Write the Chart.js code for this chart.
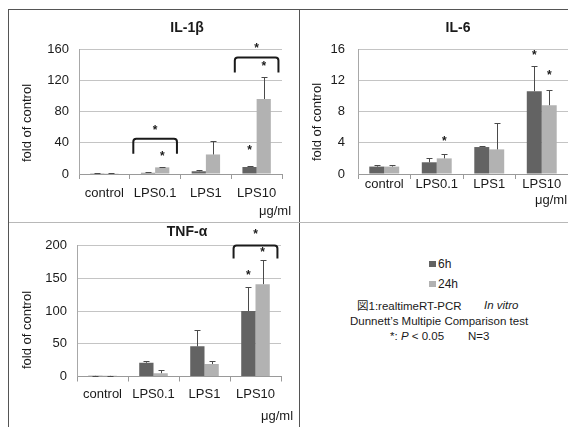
<!DOCTYPE html>
<html><head><meta charset="utf-8">
<script src="https://cdn.jsdelivr.net/npm/chart.js@4"></script>
<style>
html,body{margin:0;padding:0;background:#fff;}
body{width:568px;height:427px;position:relative;overflow:hidden;font-family:'Liberation Sans',Arial,sans-serif;color:#1a1a1a;}
.ln{position:absolute;}
canvas{position:absolute;}
.t{position:absolute;white-space:pre;font-size:11.5px;line-height:14px;}
.sq{position:absolute;width:7px;height:6px;}
.lg{position:absolute;white-space:pre;font-size:12px;line-height:14px;}
</style></head><body>
<div class="ln" style="left:8px;top:9px;width:560px;height:1px;background:#555"></div>
<div class="ln" style="left:8px;top:9px;width:1px;height:418px;background:#555"></div>
<div class="ln" style="left:299px;top:9px;width:1px;height:418px;background:#555"></div>
<div class="ln" style="left:9px;top:222px;width:559px;height:1px;background:#b8b8b8"></div>

<canvas id="c1" width="289" height="211" style="left:9px;top:10px"></canvas>
<canvas id="c2" width="267" height="211" style="left:301px;top:10px"></canvas>
<canvas id="c3" width="289" height="203" style="left:9px;top:224px"></canvas>

<div class="sq" style="left:429px;top:261px;background:#636363"></div>
<div class="lg" id="lg0" style="left:438px;top:257px"></div>
<div class="sq" style="left:429px;top:281px;background:#b2b2b2"></div>
<div class="lg" id="lg1" style="left:438px;top:277px"></div>

<div class="t" style="left:357px;top:298px"><span style="font-family:'Noto Sans CJK JP','Liberation Sans',sans-serif">図</span>1:realtimeRT-PCR</div>
<div class="t" style="left:484px;top:298px;font-style:italic">In vitro</div>
<div class="t" style="left:350px;top:314px">Dunnett’s Multipie Comparison test</div>
<div class="t" style="left:390px;top:329px">*: <i>P</i> &lt; 0.05</div>
<div class="t" style="left:468px;top:329px">N=3</div>

<script>
// ---- data ----
const categories = ['control', 'LPS0.1', 'LPS1', 'LPS10'];
const seriesNames = ['6h', '24h'];
const unitLabel = 'μg/ml';
const yAxisLabel = 'fold of control';

const il1bTitle = 'IL-1β';
const il1b6h = [1, 1.5, 3.5, 9];
const il1b24h = [1, 8.5, 25, 96];
const il1b6hSD = [0.3, 0.5, 1, 1.5];
const il1b24hSD = [0.3, 1, 17, 28];
const il1bTicks = [0, 40, 80, 120, 160];

const il6Title = 'IL-6';
const il66h = [0.95, 1.5, 3.45, 10.6];
const il624h = [0.95, 2.0, 3.15, 8.8];
const il66hSD = [0.15, 0.6, 0.1, 3.2];
const il624hSD = [0.25, 0.5, 3.35, 2.0];
const il6Ticks = [0, 4, 8, 12, 16];

const tnfTitle = 'TNF-α';
const tnf6h = [1, 21, 46, 100];
const tnf24h = [1, 5, 19, 141];
const tnf6hSD = [0.3, 3, 25, 36];
const tnf24hSD = [0.3, 4.5, 5, 37];
const tnfTicks = [0, 50, 100, 150, 200];

// significance marks: category index, series (null = category centre), y value
const il1bStars = [{cat:1, series:null, y:60}, {cat:1, series:1, y:27}, {cat:3, series:null, y:165}, {cat:3, series:1, y:142}, {cat:3, series:0, y:34}];
const il1bBrackets = [{cat:1, top:45, leg:26}, {cat:3, top:149, leg:130}];
const il6Stars = [{cat:1, series:1, y:4.6}, {cat:3, series:0, y:15.6}, {cat:3, series:1, y:13.1}];
const il6Brackets = [];
const tnfStars = [{cat:3, series:null, y:222}, {cat:3, series:1, y:195}, {cat:3, series:0, y:159}];
const tnfBrackets = [{cat:3, top:200, leg:180}];

document.getElementById('lg0').textContent = seriesNames[0];
document.getElementById('lg1').textContent = seriesNames[1];

const FONT = "'Liberation Sans', Arial, sans-serif";
const TXT = '#1a1a1a';

const overlay = {
  id: 'overlay',
  afterDatasetsDraw(chart) {
    const o = chart.options.plugins.overlay;
    const ctx = chart.ctx, xs = chart.scales.x, ys = chart.scales.y;
    ctx.save();
    // error bars
    o.sd.forEach((arr, di) => {
      const meta = chart.getDatasetMeta(di);
      meta.data.forEach((bar, i) => {
        const v = chart.data.datasets[di].data[i];
        const yt = Math.round(ys.getPixelForValue(v + arr[i])) + 0.5;
        const bx = Math.round(bar.x) + 0.5;
        ctx.strokeStyle = '#4a4a4a'; ctx.lineWidth = 1;
        ctx.beginPath();
        ctx.moveTo(bx, bar.y); ctx.lineTo(bx, yt);
        ctx.moveTo(bx - 3, yt); ctx.lineTo(bx + 3, yt);
        ctx.stroke();
      });
    });
    // brackets
    const cw = xs.getPixelForValue(1) - xs.getPixelForValue(0);
    ctx.strokeStyle = '#1a1a1a'; ctx.lineWidth = 2; ctx.lineJoin = 'round';
    o.brackets.forEach(b => {
      const cx = xs.getPixelForValue(b.cat);
      const x0 = cx - 0.43 * cw, x1 = cx + 0.43 * cw;
      const yt = ys.getPixelForValue(b.top), yl = ys.getPixelForValue(b.leg);
      ctx.beginPath();
      ctx.moveTo(x0, yl);
      ctx.arcTo(x0, yt, x1, yt, 3);
      ctx.arcTo(x1, yt, x1, yl, 3);
      ctx.lineTo(x1, yl);
      ctx.stroke();
    });
    // stars
    ctx.fillStyle = '#1a1a1a';
    ctx.font = 'bold 12px ' + FONT; ctx.textAlign = 'center'; ctx.textBaseline = 'alphabetic';
    o.stars.forEach(s => {
      const sx = s.series == null ? xs.getPixelForValue(s.cat) : chart.getDatasetMeta(s.series).data[s.cat].x;
      const sy = ys.getPixelForValue(s.y);
      ctx.fillText('*', sx, sy + 7);
    });
    // title
    ctx.fillStyle = TXT;
    ctx.font = 'bold 14px ' + FONT; ctx.textBaseline = 'middle';
    ctx.fillText(o.title, o.titlePos[0], o.titlePos[1]);
    // unit
    ctx.font = '13px ' + FONT;
    ctx.fillText(unitLabel, o.unitPos[0], o.unitPos[1]);
    // y axis title
    ctx.translate(o.axisPos[0], o.axisPos[1]);
    ctx.rotate(-Math.PI / 2);
    ctx.font = '13px ' + FONT;
    ctx.fillText(yAxisLabel, 0, 0);
    ctx.restore();
  }
};

function makeChart(id, a6, a24, sd6, sd24, ticks, cfg) {
  new Chart(document.getElementById(id), {
    type: 'bar',
    data: {
      labels: categories,
      datasets: [
        {label: seriesNames[0], data: a6, backgroundColor: '#636363', borderWidth: 0, barPercentage: 1, categoryPercentage: cfg.catPct},
        {label: seriesNames[1], data: a24, backgroundColor: '#b2b2b2', borderWidth: 0, barPercentage: 1, categoryPercentage: cfg.catPct}
      ]
    },
    options: {
      responsive: false, animation: false,
      layout: {padding: cfg.padding},
      plugins: {
        legend: {display: false}, tooltip: {enabled: false}, title: {display: false},
        overlay: {sd: [sd6, sd24], stars: cfg.stars, brackets: cfg.brackets, title: cfg.title,
                  titlePos: cfg.titlePos, unitPos: cfg.unitPos, axisPos: cfg.axisPos}
      },
      scales: {
        x: {
          grid: {drawOnChartArea: false, drawTicks: true, tickLength: 5, color: '#9a9a9a', offset: true},
          border: {color: '#9a9a9a'},
          ticks: {padding: cfg.xPad, font: {family: FONT, size: 13}, color: TXT, maxRotation: 0, autoSkip: false},
          afterFit(s) { s.height = cfg.xH; }
        },
        y: {
          min: ticks[0], max: ticks[ticks.length - 1],
          ticks: {stepSize: ticks[1] - ticks[0], padding: cfg.yPad, font: {family: FONT, size: 13}, color: TXT},
          grid: {color: '#c4c4c4', drawTicks: false},
          border: {color: '#a8a8a8'},
          afterFit(s) { s.width = cfg.yW; }
        }
      }
    },
    plugins: [overlay]
  });
}

makeChart('c1', il1b6h, il1b24h, il1b6hSD, il1b24hSD, il1bTicks, {
  catPct: 0.56, padding: {left: 0, right: 16, top: 39, bottom: 17}, xH: 30, yW: 70, xPad: 7, yPad: 10,
  stars: il1bStars, brackets: il1bBrackets, title: il1bTitle,
  titlePos: [178, 18], unitPos: [266, 201], axisPos: [18, 113]
});
makeChart('c2', il66h, il624h, il66hSD, il624hSD, il6Ticks, {
  catPct: 0.57, padding: {left: 0, right: 0, top: 39, bottom: 17}, xH: 30, yW: 57, xPad: -2, yPad: 13,
  stars: il6Stars, brackets: il6Brackets, title: il6Title,
  titlePos: [157, 18], unitPos: [250, 190], axisPos: [16, 112]
});
makeChart('c3', tnf6h, tnf24h, tnf6hSD, tnf24hSD, tnfTicks, {
  catPct: 0.56, padding: {left: 0, right: 17, top: 21.5, bottom: 20.5}, xH: 30, yW: 68, xPad: 5, yPad: 10,
  stars: tnfStars, brackets: tnfBrackets, title: tnfTitle,
  titlePos: [178, 8], unitPos: [268, 192], axisPos: [18, 106]
});
</script>
</body></html>
